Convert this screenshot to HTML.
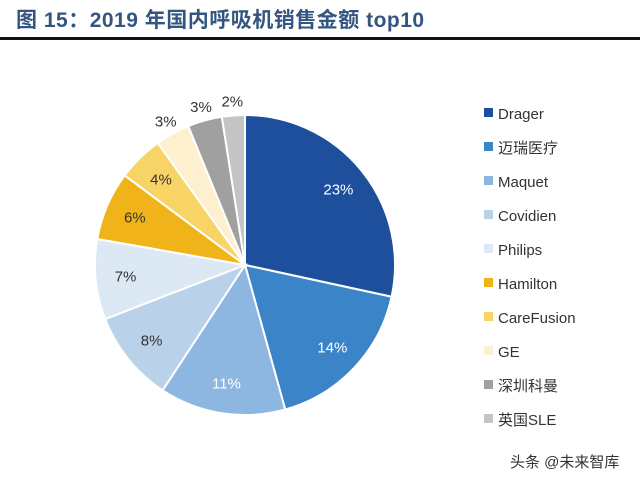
<!DOCTYPE html>
<html><head><meta charset="utf-8"><style>
body{margin:0;width:640px;height:480px;background:#fff;overflow:hidden;font-family:"Liberation Sans","Noto Sans CJK SC",sans-serif;}
#title{position:absolute;left:16px;top:4px;font-size:21px;font-weight:bold;color:#34557f;font-family:"Liberation Sans","Noto Sans CJK SC",sans-serif;letter-spacing:0.5px}
#rule{position:absolute;left:0;top:37px;width:640px;height:3px;background:#111}
svg{position:absolute;left:0;top:0}
</style></head><body>
<div id="title">图 15：2019 年国内呼吸机销售金额 top10</div>
<div id="rule"></div>
<svg id="chart" width="640" height="480"></svg>
<script>
const categories=["Drager","迈瑞医疗","Maquet","Covidien","Philips","Hamilton","CareFusion","GE","深圳科曼","英国SLE"];
const values=[23,14,11,8,7,6,4,3,3,2];
const colors=["#1d4f9c","#3b84c8","#8db6e0","#b9d2ea","#dce9f4","#f0b31a","#f8d466","#fdf0cf","#a0a0a0","#c4c4c4"];
const labelColors=["#fff","#fff","#fff","#333","#333","#333","#333","#333","#333","#333"];
const NS="http://www.w3.org/2000/svg";
const svg=document.getElementById('chart');
const cx=245,cy=265,r=150;
const total=values.reduce((a,b)=>a+b,0);
function pt(a,rad){return [cx+rad*Math.sin(a),cy-rad*Math.cos(a)];}
let acc=0;
values.forEach((v,i)=>{
  const a0=acc/total*2*Math.PI; acc+=v; const a1=acc/total*2*Math.PI;
  const p0=pt(a0,r),p1=pt(a1,r);
  const path=document.createElementNS(NS,'path');
  path.setAttribute('d',`M${cx},${cy}L${p0[0]},${p0[1]}A${r},${r} 0 ${a1-a0>Math.PI?1:0} 1 ${p1[0]},${p1[1]}Z`);
  path.setAttribute('fill',colors[i]);path.setAttribute('stroke','#fff');path.setAttribute('stroke-width','2');
  
  
  svg.appendChild(path);
  const am=(a0+a1)/2;
  const outside=i>=7;
  const lp=pt(am,outside?r+14:r*0.8);
  const t=document.createElementNS(NS,'text');
  t.setAttribute('x',lp[0]);t.setAttribute('y',lp[1]+5);t.setAttribute('text-anchor','middle');
  t.setAttribute('font-size','15');t.setAttribute('fill',outside?'#333':labelColors[i]);
  t.textContent=v+'%';
  
  
  svg.appendChild(t);
});
categories.forEach((c,i)=>{
  const y=113+i*34;
  const rect=document.createElementNS(NS,'rect');
  rect.setAttribute('x',484);rect.setAttribute('y',y-5);rect.setAttribute('width',9);rect.setAttribute('height',9);rect.setAttribute('fill',colors[i]);
  
  
  svg.appendChild(rect);
  const t=document.createElementNS(NS,'text');
  t.setAttribute('x',498);t.setAttribute('y',y+6);t.setAttribute('font-size','15');t.setAttribute('fill','#333');
  t.textContent=c;
  
  
  svg.appendChild(t);
});
const w=document.createElementNS(NS,'text');
w.setAttribute('x',510);w.setAttribute('y',467);w.setAttribute('font-size','15');w.setAttribute('fill','#333');
w.textContent='头条 @未来智库';


svg.appendChild(w);
</script>
</body></html>
